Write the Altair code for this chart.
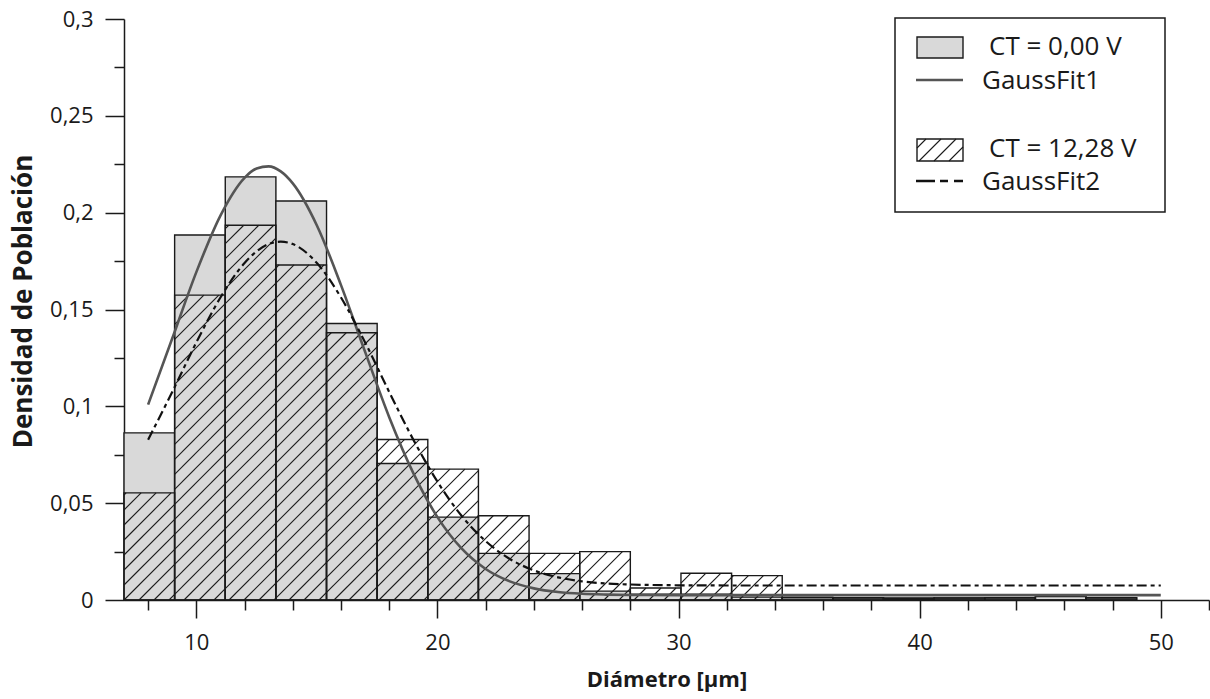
import math
import altair as alt
import pandas as pd

# Histogram bins: left edges in µm and a common width
bin_left = [7.0, 9.1, 11.2, 13.3, 15.4, 17.5, 19.6, 21.7, 23.8, 25.9,
            28.0, 30.1, 32.2, 34.3, 36.4, 38.5, 40.6, 42.7, 44.8, 46.9]
BIN_WIDTH = 2.1

# Population density per bin for each voltage
density_ct0 = [0.0863, 0.1885, 0.2185, 0.2060, 0.1428, 0.0705, 0.0428, 0.0241, 0.0136, 0.0046,
               0.0030, 0.0030, 0.0015, 0.0012, 0.0012, 0.0010, 0.0010, 0.0012, 0.0020, 0.0012]
density_ct1228 = [0.0553, 0.1574, 0.1935, 0.1730, 0.1380, 0.0829, 0.0676, 0.0435, 0.0241, 0.0250,
                  0.0062, 0.0138, 0.0126, 0.0015, 0.0010, 0.0008, 0.0010, 0.0010, 0.0018, 0.0010]

# Gaussian fit curves
fit_x = [8, 9, 10, 11, 12, 12.5, 13, 13.5, 14, 15, 16, 17, 18, 19, 20, 21, 22, 23, 24, 25,
         26, 27, 28, 30, 32, 34, 36, 38, 40, 42, 44, 46, 48, 50]
fit1_y = [0.1009, 0.1350, 0.1693, 0.1985, 0.2180, 0.2228, 0.2239, 0.2213, 0.2151, 0.1934,
          0.1626, 0.1281, 0.0944, 0.0655, 0.0428, 0.0266, 0.0160, 0.0096, 0.0060, 0.0041,
          0.0032, 0.0028, 0.0026, 0.0025, 0.0025, 0.0025, 0.0025, 0.0025, 0.0025, 0.0025,
          0.0025, 0.0025, 0.0025, 0.0025]
fit2_y = [0.0828, 0.1074, 0.1330, 0.1562, 0.1740, 0.1800, 0.1838, 0.1850, 0.1838, 0.1740,
          0.1562, 0.1330, 0.1074, 0.0828, 0.0611, 0.0435, 0.0304, 0.0212, 0.0153, 0.0117,
          0.0096, 0.0085, 0.0080, 0.0076, 0.0075, 0.0075, 0.0075, 0.0075, 0.0075, 0.0075,
          0.0075, 0.0075, 0.0075, 0.0075]

legend_labels = ["CT = 0,00 V", "GaussFit1", "CT = 12,28 V", "GaussFit2"]

major_x = [10, 20, 30, 40, 50]
minor_x = [8, 12, 14, 16, 18, 22, 24, 26, 28, 32, 34, 36, 38, 42, 44, 46, 48, 52]
major_y = [0, 0.05, 0.1, 0.15, 0.2, 0.25, 0.3]
minor_y = [0.025, 0.075, 0.125, 0.175, 0.225, 0.275]

# ---- plot geometry ----
W, H = 1085, 581
LEFT, TOP = 124, 19
X_MIN, X_MAX = 7, 52
Y_MAX = 0.3
PX_X = W / (X_MAX - X_MIN)
PX_Y = H / Y_MAX
FONT = "Open Sans"
INK = "#1a1a1a"


def to_x(px):
    """pixel offset from the plot's left edge -> µm"""
    return X_MIN + px / PX_X


def to_y(py):
    """pixel offset upward from the x axis -> density"""
    return py / PX_Y


def hatch(xa, xb, yb, yt, step=15.0):
    """45° hatch segments clipped to a pixel rectangle (global phase)."""
    segs = []
    c = math.floor((xa - (yt - yb)) / step) * step
    while c <= xb:
        xs = max(xa, c)
        xe = min(xb, c + (yt - yb))
        if xe - xs > 0.8:
            segs.append((xs, yb + xs - c, xe, yb + xe - c))
        c += step
    return segs


xscale = alt.Scale(domain=[X_MIN, X_MAX], nice=False, zero=False)
yscale = alt.Scale(domain=[0, Y_MAX], nice=False, zero=False)

bars = pd.DataFrame({
    "left": bin_left,
    "right": [b + BIN_WIDTH for b in bin_left],
    "zero": 0.0,
    "ct0": density_ct0,
    "ct1228": density_ct1228,
})

# hatch lines for the CT = 12,28 V bars
hrows = []
for left, v in zip(bin_left, density_ct1228):
    xa = (left - X_MIN) * PX_X
    xb = xa + BIN_WIDTH * PX_X
    top = v * PX_Y
    if top < 4:
        continue
    for xs, ys, xe, ye in hatch(xa, xb, 0.0, top):
        hrows.append({"x": to_x(xs), "y": to_y(ys), "x2": to_x(xe), "y2": to_y(ye)})
hatch_df = pd.DataFrame(hrows)

fits = pd.DataFrame({"d": fit_x, "f1": fit1_y, "f2": fit2_y})

# ---- axes ----
lab_expr = "replace(format(datum.value, '~g'), '.', ',')"
x_major = alt.Axis(values=major_x, tickSize=18, tickWidth=1.5, tickColor=INK,
                   domain=True, domainColor=INK, domainWidth=1.5, grid=False,
                   labelFont=FONT, labelFontSize=22, labelColor=INK, labelPadding=14,
                   labelExpr=lab_expr,
                   title="Diámetro [µm]", titleFont=FONT, titleFontSize=22,
                   titleFontWeight="bold", titleColor=INK, titlePadding=16, orient="bottom")
x_minor = alt.Axis(values=minor_x, tickSize=10, tickWidth=1.5, tickColor=INK,
                   domain=False, labels=False, grid=False, title=None, orient="bottom")
y_major = alt.Axis(values=major_y, tickSize=19, tickWidth=1.5, tickColor=INK,
                   domain=True, domainColor=INK, domainWidth=1.5, grid=False,
                   labelFont=FONT, labelFontSize=22, labelColor=INK, labelPadding=12,
                   labelExpr=lab_expr,
                   title="Densidad de Población", titleFont=FONT, titleFontSize=26,
                   titleFontWeight="bold", titleColor=INK,
                   titleX=-101, titleY=282, titleAngle=270, titleAlign="center",
                   titleBaseline="middle", orient="left")
y_minor = alt.Axis(values=minor_y, tickSize=10, tickWidth=1.5, tickColor=INK,
                   domain=False, labels=False, grid=False, title=None, orient="left")

base = alt.Chart(bars)

gray_bars = base.mark_rect(fill="#d9d9d9", stroke=INK, strokeWidth=1.4).encode(
    x=alt.X("left:Q", scale=xscale, axis=x_major),
    x2="right:Q",
    y=alt.Y("ct0:Q", scale=yscale, axis=y_major),
    y2="zero:Q",
)

hatch_lines = alt.Chart(hatch_df).mark_rule(color=INK, strokeWidth=1.1).encode(
    x=alt.X("x:Q", scale=xscale, axis=None),
    x2="x2:Q",
    y=alt.Y("y:Q", scale=yscale, axis=None),
    y2="y2:Q",
)

hatch_bars = base.mark_rect(fillOpacity=0, stroke=INK, strokeWidth=1.4).encode(
    x=alt.X("left:Q", scale=xscale, axis=None),
    x2="right:Q",
    y=alt.Y("ct1228:Q", scale=yscale, axis=None),
    y2="zero:Q",
)

fit1 = alt.Chart(fits).mark_line(color="#555555", strokeWidth=2.6, interpolate="monotone").encode(
    x=alt.X("d:Q", scale=xscale, axis=x_minor),
    y=alt.Y("f1:Q", scale=yscale, axis=y_minor),
)

fit2 = alt.Chart(fits).mark_line(color="#111111", strokeWidth=2.2, strokeDash=[10, 4, 4, 4],
                                 interpolate="monotone").encode(
    x=alt.X("d:Q", scale=xscale, axis=None),
    y=alt.Y("f2:Q", scale=yscale, axis=None),
)

# ---- legend (laid out in pixels, converted to data space) ----
def ax(px_abs):
    return to_x(px_abs - LEFT)


def ay(py_abs):
    return to_y(TOP + H - py_abs)


box_df = pd.DataFrame([{"x": ax(895), "x2": ax(1165), "y": ay(18), "y2": ay(212)}])
legend_box = alt.Chart(box_df).mark_rect(fill="white", stroke=INK, strokeWidth=1.5).encode(
    x=alt.X("x:Q", scale=xscale, axis=None), x2="x2:Q",
    y=alt.Y("y:Q", scale=yscale, axis=None), y2="y2:Q",
)

sw_df = pd.DataFrame([
    {"x": ax(917), "x2": ax(963), "y": ay(37), "y2": ay(58), "fill": "#d9d9d9"},
    {"x": ax(917), "x2": ax(963), "y": ay(139), "y2": ay(161), "fill": "white"},
])
swatches = alt.Chart(sw_df).mark_rect(stroke=INK, strokeWidth=1.4).encode(
    x=alt.X("x:Q", scale=xscale, axis=None), x2="x2:Q",
    y=alt.Y("y:Q", scale=yscale, axis=None), y2="y2:Q",
    fill=alt.Fill("fill:N", scale=None),
)

sw_hatch = pd.DataFrame([
    {"x": ax(LEFT + xs), "y": ay(TOP + H - ys), "x2": ax(LEFT + xe), "y2": ay(TOP + H - ye)}
    for xs, ys, xe, ye in hatch(917 - LEFT, 963 - LEFT, 600 - 161, 600 - 139, step=15.0)
])
swatch_hatch = alt.Chart(sw_hatch).mark_rule(color=INK, strokeWidth=1.1).encode(
    x=alt.X("x:Q", scale=xscale, axis=None), x2="x2:Q",
    y=alt.Y("y:Q", scale=yscale, axis=None), y2="y2:Q",
)

l1 = pd.DataFrame([{"x": ax(916), "x2": ax(963), "y": ay(80)}])
leg_line1 = alt.Chart(l1).mark_rule(color="#555555", strokeWidth=2.6).encode(
    x=alt.X("x:Q", scale=xscale, axis=None), x2="x2:Q",
    y=alt.Y("y:Q", scale=yscale, axis=None),
)
l2 = pd.DataFrame([{"x": ax(916), "x2": ax(963), "y": ay(181)}])
leg_line2 = alt.Chart(l2).mark_rule(color="#111111", strokeWidth=2.4, strokeDash=[19, 5, 8, 6]).encode(
    x=alt.X("x:Q", scale=xscale, axis=None), x2="x2:Q",
    y=alt.Y("y:Q", scale=yscale, axis=None),
)

txt_df = pd.DataFrame({
    "label": legend_labels,
    "x": [ax(989), ax(982), ax(989), ax(982)],
    "y": [ay(47), ay(81), ay(149), ay(182)],
})
leg_text = alt.Chart(txt_df).mark_text(align="left", baseline="middle", font=FONT,
                                       fontSize=26, color=INK).encode(
    x=alt.X("x:Q", scale=xscale, axis=None),
    y=alt.Y("y:Q", scale=yscale, axis=None),
    text="label:N",
)

chart = alt.layer(
    gray_bars, hatch_lines, hatch_bars, fit1, fit2,
    legend_box, swatches, swatch_hatch, leg_line1, leg_line2, leg_text,
).resolve_axis(x="independent", y="independent").properties(
    width=W, height=H,
    autosize=alt.AutoSizeParams(type="none"),
    padding={"left": LEFT, "top": TOP, "right": 1210 - LEFT - W, "bottom": 699 - TOP - H},
    background="white",
).configure_view(stroke=None)

chart.save("out.html", embed_options={"renderer": "svg", "actions": False})
